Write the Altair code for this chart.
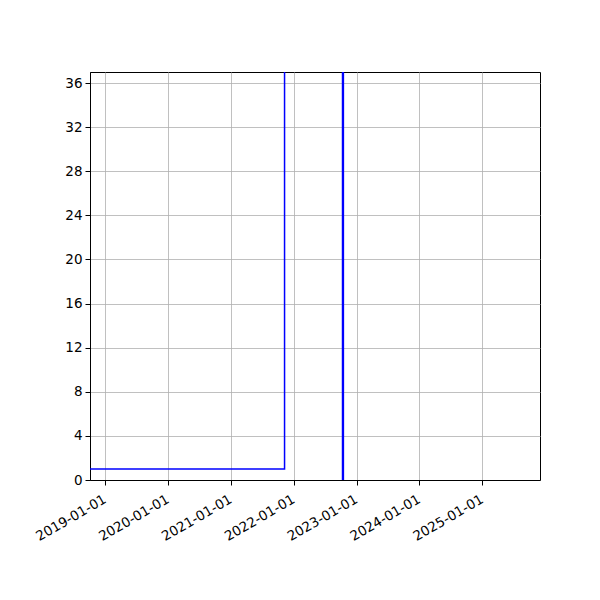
import pandas as pd
import altair as alt

# Step series (values held after each date); the spike goes off the top of the plot
dates = ["2018-09-01", "2021-11-08", "2022-10-11", "2022-10-16", "2026-06-01"]
values = [1, 100, -5, 100, 100]

year_ticks = [2019, 2020, 2021, 2022, 2023, 2024, 2025]
y_ticks = list(range(0, 37, 4))


def make_chart(df: pd.DataFrame) -> alt.Chart:
    """
    Step line clipped to a fixed window, matplotlib-like look
    """
    x = alt.X(
        "date:T",
        title=None,
        scale=alt.Scale(domain=[alt.DateTime(year=2018, month=10, date=4),
                                alt.DateTime(year=2025, month=12, date=2)]),
        axis=alt.Axis(
            values=[alt.DateTime(year=y, month=1, date=1) for y in year_ticks],
            format="%Y-%m-%d",
            labelAngle=-30,
            labelAlign="right",
            labelBaseline="top",
            labelFontSize=13.5,
            labelColor="black",
            labelOverlap=False,
            labelOffset=-4,
            tickColor="black",
            tickSize=5,
            domainColor="black",
            gridColor="#b0b0b0",
            gridWidth=0.8,
            labelPadding=7,
        ),
    )
    y = alt.Y(
        "value:Q",
        title=None,
        scale=alt.Scale(domain=[0, 37], nice=False, zero=False),
        axis=alt.Axis(
            values=y_ticks,
            labelFontSize=13.5,
            labelColor="black",
            tickColor="black",
            tickSize=5,
            domainColor="black",
            gridColor="#b0b0b0",
            gridWidth=0.8,
            labelPadding=3,
        ),
    )
    line = alt.Chart(df).mark_line(
        interpolate="step-after", color="#0000ff", strokeWidth=1.5, clip=True
    ).encode(x=x, y=y, order="order:Q")
    return line.properties(
        width=450, height=408,
        autosize=alt.AutoSizeParams(type="none"),
        padding={"left": 82, "top": 64, "right": 52, "bottom": 112},
    ).configure(font="DejaVu Sans").configure_view(
        stroke="black", strokeWidth=1
    )


if __name__ == "__main__":
    df = pd.DataFrame({"date": pd.to_datetime(dates), "value": values,
                       "order": range(len(values))})
    chart = make_chart(df)
    chart.save("out.html", embed_options={"renderer": "svg", "actions": False})
